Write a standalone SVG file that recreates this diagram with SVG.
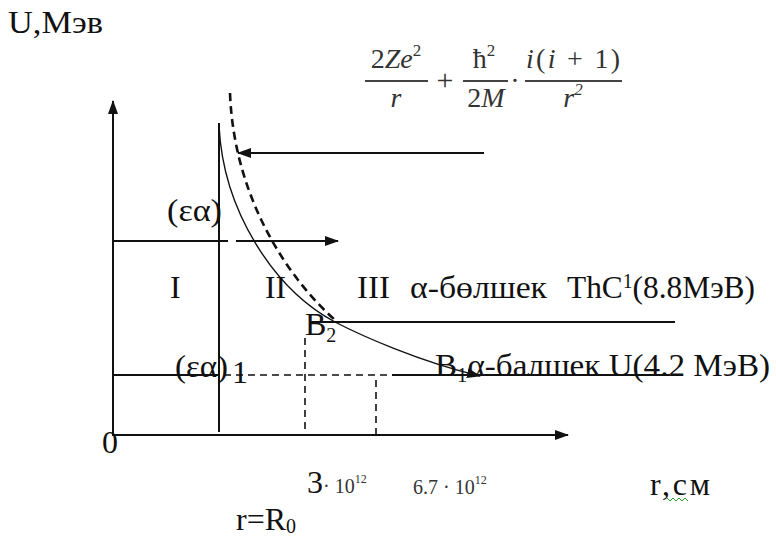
<svg xmlns="http://www.w3.org/2000/svg" width="776" height="537" viewBox="0 0 776 537">
<style>
.t{font-family:"Liberation Serif","Times New Roman",serif;fill:#111;font-size:32px}
.m{font-family:"Liberation Serif","Times New Roman",serif;fill:#333}
.ln{stroke:#111;stroke-width:2;fill:none}
.dl{stroke:#111;stroke-width:1.6;fill:none;stroke-dasharray:7 5}
.fb{stroke:#444;stroke-width:2.2}
</style>
<defs>
<marker id="ah" viewBox="0 0 14 10" refX="13" refY="5" markerWidth="14" markerHeight="10" markerUnits="userSpaceOnUse" orient="auto">
<path d="M0,0 L14,5 L0,10 Z" fill="#111"/>
</marker>
</defs>
<rect width="776" height="537" fill="#fff"/>
<g id="connectors">
<line class="ln" x1="113" y1="436" x2="113" y2="101" marker-end="url(#ah)"/>
<line class="ln" x1="113" y1="435" x2="568" y2="435" marker-end="url(#ah)"/>
<line class="ln" x1="219" y1="123" x2="219" y2="432"/>
<line class="ln" x1="113" y1="241" x2="228" y2="241"/>
<line class="ln" x1="236" y1="241" x2="338" y2="241" marker-end="url(#ah)"/>
<line class="ln" x1="484" y1="153" x2="238" y2="153" marker-end="url(#ah)"/>
<line class="ln" x1="310" y1="322" x2="675" y2="322"/>
<line class="ln" x1="113" y1="375" x2="219" y2="375"/>
<line class="dl" x1="224" y1="375" x2="390" y2="375"/>
<line class="ln" x1="392" y1="375" x2="670" y2="375"/>
<line class="dl" x1="305" y1="338" x2="305" y2="435"/>
<line class="dl" x1="376" y1="380" x2="376" y2="435"/>
<path d="M219,125 C223,212 275,290 335,322 C360,335 420,362 480,376" stroke="#111" stroke-width="1.4" fill="none" marker-end="url(#ah)"/>
<path d="M230,93 C234,200 290,280 335,320" stroke="#111" stroke-width="2.6" fill="none" stroke-dasharray="8 5"/>
</g>
<g id="labels">
<text class="t" x="8" y="33" textLength="95" lengthAdjust="spacingAndGlyphs">U,Мэв</text>
<text class="t" x="102" y="453">0</text>
<text class="t" x="167" y="221" textLength="55" lengthAdjust="spacingAndGlyphs">(εα)</text>
<text class="t" x="170" y="298">I</text>
<text class="t" x="265" y="298" textLength="21" lengthAdjust="spacingAndGlyphs">II</text>
<text class="t" x="357" y="298" textLength="33" lengthAdjust="spacingAndGlyphs">III</text>
<text class="t" x="410" y="298" textLength="137" lengthAdjust="spacingAndGlyphs">α-бөлшек</text>
<text class="t" x="567" y="298" textLength="188" lengthAdjust="spacingAndGlyphs">ThC<tspan font-size="20" dy="-10">1</tspan><tspan dy="10">(8.8MэB)</tspan></text>
<text class="t" x="305" y="335" font-size="30">B<tspan font-size="20" dy="7">2</tspan></text>
<text class="t" x="175" y="377" textLength="53" lengthAdjust="spacingAndGlyphs">(εα)</text>
<text class="t" x="232" y="383" font-size="22">1</text>
<text class="t" x="435" y="376" textLength="335" lengthAdjust="spacingAndGlyphs">B<tspan font-size="20" dy="6">1</tspan><tspan dy="-6">α-балшек U(4.2 MэB)</tspan></text>
<text class="t" x="307" y="493" font-size="34">3</text>
<text class="m" x="323" y="493" font-size="20">· 10<tspan font-size="12" dy="-10">12</tspan></text>
<text class="m" x="413" y="494" font-size="20">6.7 · 10<tspan font-size="12" dy="-10">12</tspan></text>
<text class="t" x="650" y="495" textLength="60" lengthAdjust="spacing" font-size="30">r,см</text>
<path d="M667,498 l3,3 l3,-3 l3,3 l3,-3 l3,3 l3,-3 l3,3" stroke="#2a9d2a" stroke-width="1" fill="none"/>
<text class="t" x="236" y="530" font-size="30">r=R<tspan font-size="20" dy="3">0</tspan></text>
</g>
<g id="formula">
<text class="m" x="396" y="68" font-size="28" text-anchor="middle">2<tspan font-style="italic">Ze</tspan><tspan font-size="17" dy="-12">2</tspan></text>
<line class="fb" x1="365" y1="81" x2="428" y2="81"/>
<text class="m" x="396" y="107" font-size="28" text-anchor="middle" font-style="italic">r</text>
<text class="m" x="445" y="90" font-size="30" text-anchor="middle">+</text>
<text class="m" x="484" y="68" font-size="28" text-anchor="middle">ħ<tspan font-size="17" dy="-12">2</tspan></text>
<line class="fb" x1="463" y1="81" x2="508" y2="81"/>
<text class="m" x="486" y="107" font-size="28" text-anchor="middle">2<tspan font-style="italic">M</tspan></text>
<text class="m" x="515" y="90" font-size="28" text-anchor="middle">·</text>
<text class="m" x="573" y="68" font-size="28" text-anchor="middle" textLength="94" lengthAdjust="spacing"><tspan font-style="italic">i</tspan>(<tspan font-style="italic">i</tspan> + 1)</text>
<line class="fb" x1="525" y1="81" x2="622" y2="81"/>
<text class="m" x="573" y="107" font-size="28" text-anchor="middle" font-style="italic">r<tspan font-size="17" dy="-12">2</tspan></text>
</g>
</svg>
